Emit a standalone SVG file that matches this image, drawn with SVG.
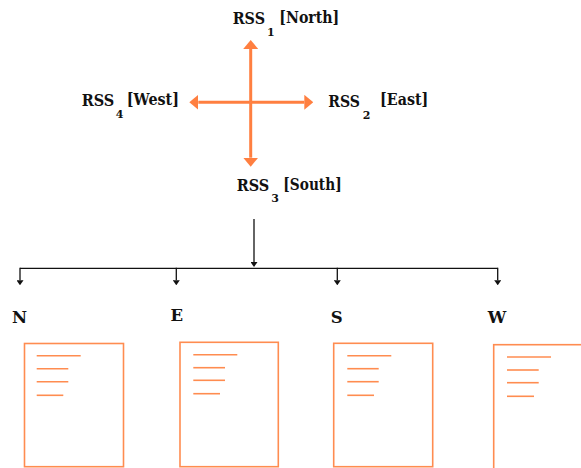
<svg xmlns="http://www.w3.org/2000/svg" width="581" height="468" viewBox="0 0 581 468">
  <defs>
    <marker id="oarrow" markerUnits="userSpaceOnUse" viewBox="0 0 9 15" refX="0" refY="7.5" markerWidth="9" markerHeight="15" orient="auto">
      <path d="M0,0 L9,7.5 L0,15 Z" fill="#FF7F40"/>
    </marker>
    <marker id="karrow" markerUnits="userSpaceOnUse" viewBox="0 0 5 7" refX="0" refY="3.5" markerWidth="5" markerHeight="7" orient="auto">
      <path d="M0,0 L5,3.5 L0,7 Z" fill="#111"/>
    </marker>
  </defs>
  <style>
    text { font-family: 'DejaVu Serif', serif; font-weight: bold; font-size: 16.5px; fill: #111; }
    .sub { font-size: 11px; }
    .cross { stroke: #FF7F40; stroke-width: 3; fill: none; marker-end: url(#oarrow); }
    .wire { stroke: #111; stroke-width: 1.3; fill: none; }
    .tick { stroke: #111; stroke-width: 1.3; fill: none; marker-end: url(#karrow); }
    .page { fill: #fff; stroke: #FF8C50; stroke-width: 1.6; }
    .rule { stroke: #FF8C50; stroke-width: 1.6; }
  </style>
  <rect x="0" y="0" width="581" height="468" fill="#fff"/>

  <g id="connectors">
    <line class="cross" x1="250.7" y1="102.3" x2="250.7" y2="49"/>
    <line class="cross" x1="250.7" y1="102.3" x2="250.7" y2="157.7"/>
    <line class="cross" x1="250.7" y1="102.3" x2="198.3" y2="102.3"/>
    <line class="cross" x1="250.7" y1="102.3" x2="304.3" y2="102.3"/>
    <line class="tick" x1="254" y1="219" x2="254" y2="262"/>
    <line class="wire" x1="20" y1="268.3" x2="497.7" y2="268.3"/>
    <line class="tick" x1="20" y1="267.7" x2="20" y2="280.3"/>
    <line class="tick" x1="176.3" y1="267.7" x2="176.3" y2="280.3"/>
    <line class="tick" x1="337.3" y1="267.7" x2="337.3" y2="280.3"/>
    <line class="tick" x1="497.7" y1="267.7" x2="497.7" y2="280.3"/>
  </g>

  <g id="rss1">
    <text x="232.7" y="24.3" textLength="32.3" lengthAdjust="spacingAndGlyphs">RSS</text>
    <text class="sub" x="267" y="35.5">1</text>
    <text x="279.3" y="22.7" textLength="60" lengthAdjust="spacingAndGlyphs">[North]</text>
  </g>
  <g id="rss2">
    <text x="328.3" y="106.7" textLength="31.7" lengthAdjust="spacingAndGlyphs">RSS</text>
    <text class="sub" x="362.8" y="118.5">2</text>
    <text x="380" y="105" textLength="48.3" lengthAdjust="spacingAndGlyphs">[East]</text>
  </g>
  <g id="rss3">
    <text x="236.7" y="191" textLength="32.6" lengthAdjust="spacingAndGlyphs">RSS</text>
    <text class="sub" x="271.2" y="201.5">3</text>
    <text x="283.3" y="190" textLength="58.4" lengthAdjust="spacingAndGlyphs">[South]</text>
  </g>
  <g id="rss4">
    <text x="81.7" y="105.7" textLength="32.6" lengthAdjust="spacingAndGlyphs">RSS</text>
    <text class="sub" x="115.8" y="117.5">4</text>
    <text x="126.7" y="105" textLength="52.3" lengthAdjust="spacingAndGlyphs">[West]</text>
  </g>

  <g id="label-n"><text x="19.5" y="322.7" text-anchor="middle">N</text></g>
  <g id="label-e"><text x="176.7" y="321" text-anchor="middle">E</text></g>
  <g id="label-s"><text x="336.7" y="323" text-anchor="middle">S</text></g>
  <g id="label-w"><text x="497" y="323" text-anchor="middle">W</text></g>

  <g id="page-n">
    <rect class="page" x="24.5" y="343.5" width="99" height="123.2"/>
    <line class="rule" x1="36.7" y1="355.7" x2="80.7" y2="355.7"/>
    <line class="rule" x1="36.7" y1="368.7" x2="68.3" y2="368.7"/>
    <line class="rule" x1="36.7" y1="381.7" x2="68.3" y2="381.7"/>
    <line class="rule" x1="36.7" y1="395.3" x2="63.3" y2="395.3"/>
  </g>
  <g id="page-e">
    <rect class="page" x="180" y="342.3" width="98.3" height="124.4"/>
    <line class="rule" x1="193.3" y1="354.7" x2="237.3" y2="354.7"/>
    <line class="rule" x1="193.3" y1="367.7" x2="225" y2="367.7"/>
    <line class="rule" x1="193.3" y1="380.3" x2="225" y2="380.3"/>
    <line class="rule" x1="193.3" y1="393.7" x2="220" y2="393.7"/>
  </g>
  <g id="page-s">
    <rect class="page" x="333.7" y="343.3" width="99" height="123.4"/>
    <line class="rule" x1="347.3" y1="355.7" x2="391.3" y2="355.7"/>
    <line class="rule" x1="347.3" y1="368.7" x2="378.7" y2="368.7"/>
    <line class="rule" x1="347.3" y1="381.7" x2="378.7" y2="381.7"/>
    <line class="rule" x1="347.3" y1="395.3" x2="374" y2="395.3"/>
  </g>
  <g id="page-w">
    <rect class="page" x="493.7" y="344.7" width="100" height="130"/>
    <line class="rule" x1="507" y1="357" x2="551" y2="357"/>
    <line class="rule" x1="507" y1="370" x2="538.7" y2="370"/>
    <line class="rule" x1="507" y1="382.7" x2="538.7" y2="382.7"/>
    <line class="rule" x1="507" y1="396.3" x2="534" y2="396.3"/>
  </g>
</svg>
